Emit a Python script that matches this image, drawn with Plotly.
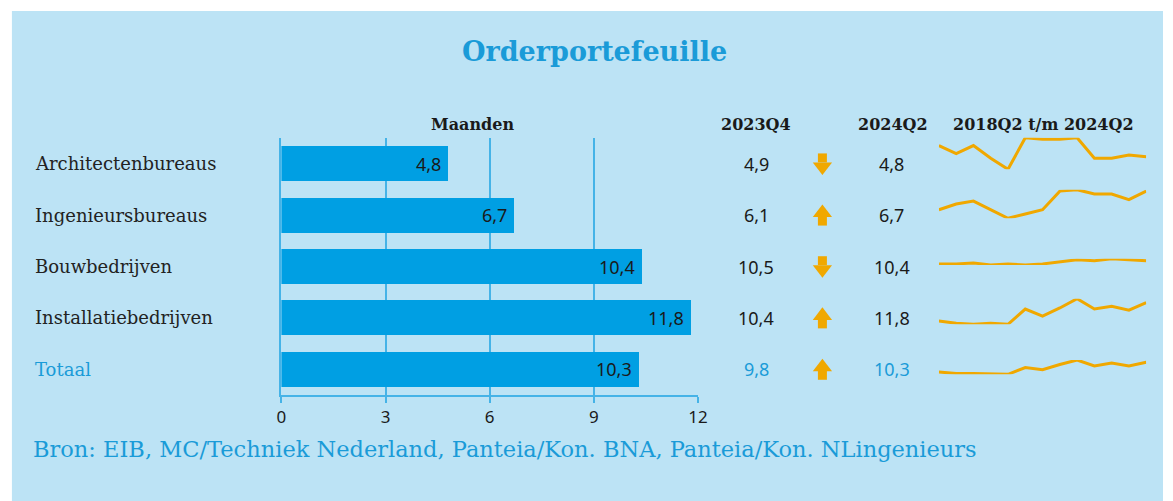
import plotly.graph_objects as go

W, H = 1173, 501

# ---------------- data ----------------
categories = ["Architectenbureaus", "Ingenieursbureaus", "Bouwbedrijven",
              "Installatiebedrijven", "Totaal"]
months_2024q2 = [4.8, 6.7, 10.4, 11.8, 10.3]
months_2023q4 = [4.9, 6.1, 10.5, 10.4, 9.8]
x_ticks = [0, 3, 6, 9, 12]

periods = ["2018Q2", "2018Q4", "2019Q2", "2019Q4", "2020Q2", "2020Q4", "2021Q2",
           "2021Q4", "2022Q2", "2022Q4", "2023Q2", "2023Q4", "2024Q2"]
spark_architecten = [5.5, 5.0, 5.5, 4.7, 4.0, 6.0, 5.9, 5.9, 6.0, 4.7, 4.7, 4.9, 4.8]
spark_ingenieurs = [5.4, 5.8, 6.0, 5.4, 4.8, 5.1, 5.4, 6.7, 6.8, 6.5, 6.5, 6.1, 6.7]
spark_bouw = [10.1, 10.1, 10.2, 10.0, 10.1, 10.0, 10.1, 10.3, 10.5, 10.4, 10.6, 10.5, 10.4]
spark_installatie = [8.4, 8.0, 7.8, 8.0, 7.8, 10.6, 9.3, 10.8, 12.5, 10.6, 11.1, 10.4, 11.8]
spark_totaal = [9.0, 8.8, 8.8, 8.8, 8.7, 9.6, 9.3, 10.0, 10.6, 9.8, 10.2, 9.8, 10.3]
sparks = [spark_architecten, spark_ingenieurs, spark_bouw, spark_installatie, spark_totaal]

title = "Orderportefeuille"
source = "Bron: EIB, MC/Techniek Nederland, Panteia/Kon. BNA, Panteia/Kon. NLingenieurs"

# ---------------- styling ----------------
BG = "#BCE3F5"
BAR = "#009FE3"
GRID = "#45B3E7"
ORANGE = "#F0A800"
BLUE_TXT = "#1A9BD8"
DARK = "#1A1A1A"
SERIF = "DejaVu Serif"
SANS = "Noto Sans"

ROW_PX = 51.4  # pixel height of one category row


def fmt(v):
    return f"{v:.1f}".replace(".", ",")


def px_x(p):
    return p / W


def px_y(p):
    return 1 - p / H


fig = go.Figure()

# bars
fig.add_trace(go.Bar(
    x=months_2024q2, y=categories, orientation="h",
    marker=dict(color=BAR, line=dict(width=0)), width=0.68,
    hoverinfo="skip", showlegend=False,
))

# sparklines
spark_px = [(137.7, 169.3), (189.7, 218.3), (258.7, 265.0), (298.7, 324.3), (360.0, 374.3)]
for i, vals in enumerate(sparks):
    fig.add_trace(go.Scatter(
        x=periods, y=vals, mode="lines", xaxis="x2", yaxis=f"y{i + 2}",
        line=dict(color=ORANGE, width=3), cliponaxis=False,
        hoverinfo="skip", showlegend=False,
    ))

# trend arrows (direction from 2023Q4 -> 2024Q2), drawn as shaft + head markers
up = [b > a for a, b in zip(months_2023q4, months_2024q2)]
idx = list(range(len(categories)))
head_off = [(-2.2 if u else 2.9) / ROW_PX for u in up]
shaft_off = [(6.0 if u else -5.8) / ROW_PX for u in up]
fig.add_trace(go.Scatter(
    x=[0.5] * len(idx), y=[i + o for i, o in zip(idx, shaft_off)], mode="markers",
    xaxis="x3", yaxis="y7", cliponaxis=False,
    marker=dict(symbol="line-ns", size=6.4, line=dict(color=ORANGE, width=9)),
    hoverinfo="skip", showlegend=False,
))
fig.add_trace(go.Scatter(
    x=[0.5] * len(idx), y=[i + o for i, o in zip(idx, head_off)], mode="markers",
    xaxis="x3", yaxis="y7", cliponaxis=False,
    marker=dict(symbol=["triangle-up" if u else "triangle-down" for u in up],
                size=16.7, color=ORANGE, line=dict(width=0)),
    hoverinfo="skip", showlegend=False,
))

layout_axes = {}
for i, vals in enumerate(sparks):
    top, bot = spark_px[i]
    layout_axes[f"yaxis{i + 2}"] = dict(domain=[px_y(bot), px_y(top)],
                                        range=[min(vals), max(vals)],
                                        visible=False, anchor="x2", fixedrange=True)

annotations = []
for i, cat in enumerate(categories):
    is_total = cat == "Totaal"
    col = BLUE_TXT if is_total else DARK
    annotations.append(dict(x=px_x(28), xref="paper", y=cat, yref="y", text=cat,
                            xanchor="left", yanchor="middle", showarrow=False,
                            font=dict(family=SERIF, size=18, color=BLUE_TXT if is_total else "#222")))
    annotations.append(dict(x=months_2024q2[i], xref="x", y=cat, yref="y", text=fmt(months_2024q2[i]),
                            xanchor="right", yanchor="middle", xshift=-5, showarrow=False,
                            font=dict(family=SANS, size=18, color=DARK)))
    annotations.append(dict(x=px_x(761), xref="paper", y=cat, yref="y", text=fmt(months_2023q4[i]),
                            xanchor="center", yanchor="middle", showarrow=False,
                            font=dict(family=SANS, size=18, color=col)))
    annotations.append(dict(x=px_x(898), xref="paper", y=cat, yref="y", text=fmt(months_2024q2[i]),
                            xanchor="center", yanchor="middle", showarrow=False,
                            font=dict(family=SANS, size=18, color=col)))

# headers
for txt, xc in [("Maanden", 474), ("2023Q4", 761), ("2024Q2", 900), ("2018Q2 t/m 2024Q2", 1052)]:
    annotations.append(dict(x=px_x(xc), xref="paper", y=px_y(125), yref="paper", text=f"<b>{txt}</b>",
                            xanchor="center", yanchor="middle", showarrow=False,
                            font=dict(family=SERIF, size=16, color=DARK)))

# title & source
annotations.append(dict(x=px_x(597), xref="paper", y=px_y(52), yref="paper", text=f"<b>{title}</b>",
                        xanchor="center", yanchor="middle", showarrow=False,
                        font=dict(family=SERIF, size=27, color=BLUE_TXT)))
annotations.append(dict(x=px_x(26), xref="paper", y=px_y(449), yref="paper", text=source,
                        xanchor="left", yanchor="middle", showarrow=False,
                        font=dict(family=SERIF, size=22.5, color=BLUE_TXT)))

fig.update_layout(
    width=W, height=H,
    margin=dict(l=0, r=0, t=0, b=0),
    paper_bgcolor="white", plot_bgcolor="rgba(0,0,0,0)",
    showlegend=False,
    bargap=0,
    xaxis=dict(domain=[px_x(280), px_x(702)], range=[0, 12], tickvals=x_ticks,
               ticktext=[str(t) for t in x_ticks],
               showgrid=True, gridcolor=GRID, gridwidth=1.5, zeroline=False,
               showline=True, linecolor=GRID, linewidth=1.5,
               ticks="outside", ticklen=6, tickcolor=GRID, tickwidth=1.5,
               tickfont=dict(family=SANS, size=17, color=DARK), fixedrange=True),
    yaxis=dict(domain=[px_y(395), px_y(138)], categoryorder="array", categoryarray=categories,
               range=[4.5, -0.5], showticklabels=False, showgrid=False, zeroline=False,
               showline=True, linecolor=GRID, linewidth=1.5, ticks="", fixedrange=True),
    xaxis2=dict(domain=[px_x(946), px_x(1156)], visible=False, anchor="y2",
                categoryorder="array", categoryarray=periods, range=[0, 12], fixedrange=True),
    xaxis3=dict(domain=[px_x(808), px_x(848)], range=[0, 1], visible=False, anchor="y7",
                fixedrange=True),
    yaxis7=dict(domain=[px_y(395), px_y(138)], range=[4.5, -0.5], visible=False,
                anchor="x3", fixedrange=True),
    annotations=annotations,
    shapes=[dict(type="rect", xref="paper", yref="paper", x0=px_x(7), x1=1, y0=0, y1=px_y(11),
                 fillcolor=BG, line=dict(width=0), layer="below")],
    **layout_axes,
)

fig.write_html(
    "out.html",
    config={"displayModeBar": False, "responsive": False},
    post_script=("document.documentElement.style.margin='0';"
                 "document.documentElement.style.overflow='hidden';"
                 "document.documentElement.style.background='" + BG + "';"
                 "document.body.style.margin='0';"
                 "document.body.style.overflow='hidden';"
                 "document.body.style.background='" + BG + "';"),
)
